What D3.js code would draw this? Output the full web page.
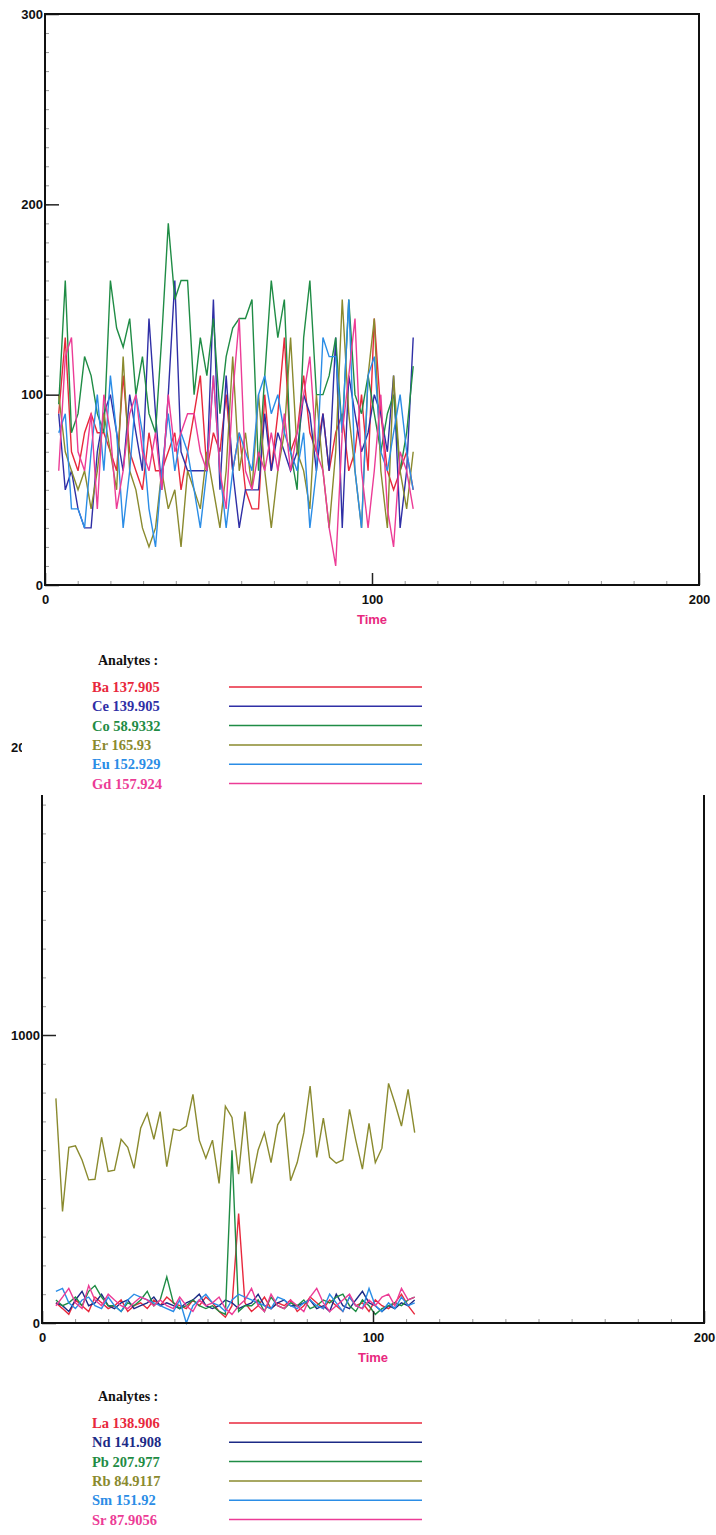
<!DOCTYPE html>
<html>
<head>
<meta charset="utf-8">
<script src="https://cdn.jsdelivr.net/npm/d3@7"></script>
<style>
  body { margin: 0; background: #fff; }
  svg { display: block; }
  .tick text { font-family: "Liberation Sans", Arial, sans-serif; font-weight: bold; font-size: 13px; fill: #111; }
</style>
</head>
<body>
<div id="chart"></div>
<script>
// time of each reading (same for both runs)
const times = [4.2, 6.2, 8.1, 10.1, 12.1, 14.1, 16.0, 18.0, 20.0, 21.9, 23.9, 25.9, 27.8, 29.8,
  31.8, 33.8, 35.7, 37.7, 39.7, 41.6, 43.6, 45.6, 47.5, 49.5, 51.5, 53.5, 55.4, 57.4,
  59.4, 61.3, 63.3, 65.3, 67.2, 69.2, 71.2, 73.2, 75.1, 77.1, 79.1, 81.0, 83.0, 85.0,
  86.9, 88.9, 90.9, 92.9, 94.8, 96.8, 98.8, 100.7, 102.7, 104.7, 106.6, 108.6, 110.6, 112.6];

// run 1
const ba = [90,130,70,60,80,90,80,80,70,60,110,70,60,50,80,60,60,70,80,50,70,90,110,60,80,70,100,60,80,50,40,40,100,60,90,130,70,80,110,80,70,90,60,80,90,60,70,100,60,140,90,60,50,60,70,50];
const ce = [90,50,60,40,30,30,70,90,100,80,60,100,80,60,140,90,50,100,160,70,60,60,60,60,150,50,110,60,30,50,50,50,90,60,80,70,60,70,100,90,60,90,60,130,30,110,90,70,80,100,90,70,110,30,60,130];
const co = [95,160,80,90,120,110,90,80,160,135,125,140,100,120,90,80,130,190,150,160,160,100,130,110,140,90,120,135,140,140,150,60,110,160,130,150,70,50,130,160,100,100,110,130,80,150,100,90,110,90,70,90,100,60,80,115];
const er = [100,70,60,50,60,40,60,90,70,50,120,60,50,30,20,30,60,40,50,20,60,50,40,70,50,30,60,120,60,80,50,100,60,30,60,80,130,70,60,40,100,60,30,70,150,90,60,30,110,140,60,30,110,60,40,70];
const eu = [80,90,40,40,30,70,100,60,110,80,30,60,100,80,40,20,60,90,60,80,70,50,30,60,110,60,30,60,80,70,60,100,110,90,100,80,70,60,80,30,60,130,120,120,80,150,60,30,110,120,70,60,80,100,70,50];
const gd = [60,120,130,70,60,90,40,100,80,40,60,90,100,70,60,80,50,100,70,80,90,90,70,60,110,60,40,100,140,60,50,70,60,80,60,90,60,80,100,120,70,60,30,10,80,110,140,60,30,60,100,40,20,70,60,40];

// run 2
const la = [70,50,30,80,60,40,90,70,50,60,80,40,60,70,50,80,60,90,70,60,50,80,60,90,70,40,20,60,380,70,40,60,90,50,70,60,80,40,60,90,70,50,80,60,40,90,60,70,40,80,60,50,70,100,60,30];
const nd = [70,60,40,80,110,60,70,100,60,50,70,80,50,60,70,90,60,70,60,50,70,80,100,60,50,60,80,70,50,60,70,100,60,50,70,80,60,60,70,80,50,60,40,100,60,50,80,110,70,60,40,60,50,70,60,80];
const pb = [80,60,70,90,60,110,130,90,60,60,40,70,60,80,110,60,80,160,70,50,60,80,60,50,60,40,30,600,40,60,60,80,40,90,60,50,70,60,80,50,60,80,70,90,100,60,40,80,60,30,50,60,70,60,80,90];
const rb = [780,387,610,615,566,497,499,645,526,531,638,610,537,676,728,638,734,543,673,668,684,794,635,572,635,485,753,714,517,734,485,601,661,557,688,726,494,557,661,823,575,711,575,555,566,742,635,534,693,557,607,832,764,684,811,661];
const sm = [110,120,70,50,80,90,60,50,90,60,40,80,100,90,80,70,60,50,40,80,0,60,80,100,70,60,40,80,100,90,80,70,60,50,90,80,60,50,70,80,60,50,100,70,40,90,60,50,120,60,40,70,50,90,60,70];
const sr = [60,90,120,70,50,130,80,60,100,80,60,50,70,90,80,60,80,60,50,90,60,40,80,60,70,90,50,30,60,80,120,60,40,100,60,50,80,60,40,90,120,70,40,60,80,100,60,50,80,60,90,100,60,120,80,90];

const xTicks = [0, 100, 200];

const W = 716, H = 1535;
const svg = d3.select('#chart').append('svg')
  .attr('width', W).attr('height', H);
svg.append('rect').attr('width', W).attr('height', H).attr('fill', '#fff');

const panels = [
  {
    x: [45, 699], y: [585, 14], ymax: 300, yMajor: [0, 100, 200, 300], yMinor: 10,
    legendTop: 660,
    series: [
      { name: 'Ba 137.905', values: ba, color: '#e8283c' },
      { name: 'Ce 139.905', values: ce, color: '#2f2fa6' },
      { name: 'Co 58.9332', values: co, color: '#1f8c45' },
      { name: 'Er 165.93',  values: er, color: '#8a8a2e' },
      { name: 'Eu 152.929', values: eu, color: '#2b8de6' },
      { name: 'Gd 157.924', values: gd, color: '#ec3c96' },
    ]
  },
  {
    x: [42, 704], y: [1323, 747], ymax: 2000, yMajor: [0, 1000, 2000], yMinor: 100,
    legendTop: 1396,
    series: [
      { name: 'La 138.906', values: la, color: '#e8283c' },
      { name: 'Nd 141.908', values: nd, color: '#1c2a86' },
      { name: 'Pb 207.977', values: pb, color: '#1f8c45' },
      { name: 'Rb 84.9117', values: rb, color: '#8a8a2e' },
      { name: 'Sm 151.92',  values: sm, color: '#2b8de6' },
      { name: 'Sr 87.9056', values: sr, color: '#ec3c96' },
    ]
  }
];

// bottom run first: the top run's legend box sits on top of it
drawPanel(panels[1]);
drawPanel(panels[0]);

function drawPanel(p) {
  const x = d3.scaleLinear().domain([0, 200]).range(p.x);
  const y = d3.scaleLinear().domain([0, p.ymax]).range(p.y);
  const g = svg.append('g');

  // data
  const line = d3.line().x((d, i) => x(times[i])).y(d => y(d));
  g.selectAll('path.series')
    .data(p.series)
    .join('path')
    .attr('class', 'series')
    .attr('fill', 'none')
    .attr('stroke', d => d.color)
    .attr('stroke-width', 1.4)
    .attr('stroke-linejoin', 'miter')
    .attr('d', d => line(d.values));

  // minor ticks
  g.append('g')
    .attr('transform', `translate(${p.x[0]},0)`)
    .call(d3.axisLeft(y).tickValues(d3.range(0, p.ymax, p.yMinor)).tickSize(-4).tickFormat(''))
    .call(a => a.select('.domain').remove())
    .call(a => a.selectAll('line').attr('stroke', '#999'));
  g.append('g')
    .attr('transform', `translate(0,${p.y[0]})`)
    .call(d3.axisBottom(x).tickValues(d3.range(0, 200, 10)).tickSize(-4).tickFormat(''))
    .call(a => a.select('.domain').remove())
    .call(a => a.selectAll('line').attr('stroke', '#999'));

  // major ticks + labels
  g.append('g')
    .attr('transform', `translate(${p.x[0]},0)`)
    .call(d3.axisLeft(y).tickValues(p.yMajor).tickSize(-14).tickPadding(2).tickFormat(d3.format('d')))
    .call(a => a.select('.domain').remove())
    .call(a => a.selectAll('line').attr('stroke', '#222').attr('stroke-width', 1.5));
  g.append('g')
    .attr('transform', `translate(0,${p.y[0]})`)
    .call(d3.axisBottom(x).tickValues(xTicks).tickSize(-12).tickPadding(10).tickFormat(d3.format('d')))
    .call(a => a.select('.domain').remove())
    .call(a => a.selectAll('line').attr('stroke', '#222').attr('stroke-width', 1.5));

  // frame
  g.append('rect')
    .attr('x', p.x[0]).attr('y', p.y[1])
    .attr('width', p.x[1] - p.x[0]).attr('height', p.y[0] - p.y[1])
    .attr('fill', 'none').attr('stroke', '#111').attr('stroke-width', 2);

  g.append('text')
    .attr('x', x(100)).attr('y', p.y[0] + 39)
    .attr('text-anchor', 'middle')
    .attr('font-family', '"Liberation Sans", Arial, sans-serif')
    .attr('font-weight', 'bold').attr('font-size', 13)
    .attr('fill', '#e8287e')
    .text('Time');

  // legend
  const top = p.legendTop;
  const lg = svg.append('g');
  lg.append('rect')
    .attr('x', 22).attr('y', top - 24)
    .attr('width', W - 22).attr('height', 159)
    .attr('fill', '#fff');
  lg.append('text')
    .attr('x', 98).attr('y', top + 5)
    .attr('font-family', '"Liberation Serif", "Times New Roman", serif')
    .attr('font-weight', 'bold')
    .attr('font-size', 14).attr('fill', '#111')
    .text('Analytes :');
  const items = lg.selectAll('g.item')
    .data(p.series)
    .join('g')
    .attr('class', 'item')
    .attr('transform', (d, i) => `translate(0,${top + 27 + i * 19.3})`);
  items.append('text')
    .attr('x', 92).attr('y', 5)
    .attr('font-family', '"Liberation Serif", "Times New Roman", serif')
    .attr('font-weight', 'bold')
    .attr('font-size', 14.5)
    .attr('fill', d => d.color)
    .text(d => d.name);
  items.append('line')
    .attr('x1', 229).attr('x2', 422)
    .attr('stroke', d => d.color).attr('stroke-width', 1.5);
}
</script>
</body>
</html>
